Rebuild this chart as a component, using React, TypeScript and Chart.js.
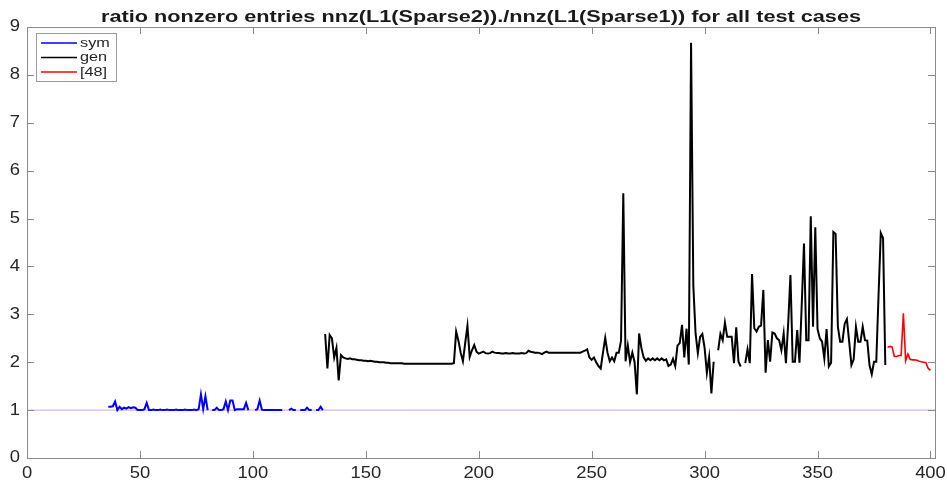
import React, { useEffect, useRef } from "react";
import { Chart, registerables } from "chart.js";

Chart.register(...registerables);

const TITLE = "ratio nonzero entries nnz(L1(Sparse2))./nnz(L1(Sparse1)) for all test cases";
const X_TICKS = [0, 50, 100, 150, 200, 250, 300, 350, 400];
const Y_TICKS = [0, 1, 2, 3, 4, 5, 6, 7, 8, 9];
const X_MIN = 0;
const X_MAX = 402;
const Y_MIN = 0;
const Y_MAX = 9;

const SERIES_LABELS = ["sym", "gen", "[48]"];

// sym: test cases 36..131 (null = no value)
const SYM_START = 36;
const SYM_VALUES = [
  1.07, 1.07, 1.08, 1.18, 1.0, 1.07, 1.02, 1.05, 1.03, 1.06,
  1.04, 1.06, 1.05, 1.0, 1.0, 1.0, 1.02, 1.15, 1.0, 1.0,
  1.01, 1.0, 1.0, 1.01, 1.0, 1.0, 1.01, 1.0, 1.0, 1.0,
  1.01, 1.0, 1.0, 1.0, 1.01, 1.0, 1.0, 1.0, 1.01, 1.0,
  1.02, 1.33, 1.02, 1.29, 1.0, null, 1.0, 1.0, 1.05, 1.0,
  1.0, 1.02, 1.18, 1.0, 1.2, 1.2, 1.0, 1.02, 1.02, 1.02,
  1.02, 1.15, 1.0, null, null, 1.0, 1.02, 1.2, 1.01, 1.0,
  1.0, 1.0, 1.0, 1.0, 1.0, 1.0, 1.0, 1.0, null, null,
  1.0, 1.03, 1.0, 1.0, null, 1.0, 1.0, 1.0, 1.05, 1.0,
  1.0, null, 1.0, 1.0, 1.07, 1.0,
];

// gen: test cases 132..380
const GEN_START = 132;
const GEN_VALUES = [
  2.59, 1.87, 2.57, 2.5, 2.1, 2.3, 1.62, 2.15, 2.1, 2.08,
  2.07, 2.08, 2.06, 2.06, 2.05, 2.04, 2.04, 2.03, 2.03, 2.02,
  2.03, 2.02, 2.01, 2.01, 2.0, 2.0, 2.0, 1.99, 1.99, 1.98,
  1.98, 1.98, 1.98, 1.98, 1.98, 1.97, 1.97, 1.97, 1.97, 1.97,
  1.97, 1.97, 1.97, 1.97, 1.97, 1.97, 1.97, 1.97, 1.97, 1.97,
  1.97, 1.97, 1.97, 1.97, 1.97, 1.97, 1.97, 1.98, 2.64, 2.45,
  2.2, 2.02, 2.4, 2.76, 2.11, 2.25, 2.36, 2.22, 2.18, 2.2,
  2.22, 2.19, 2.18, 2.19, 2.22, 2.2, 2.19, 2.19, 2.18, 2.18,
  2.19, 2.18, 2.18, 2.19, 2.18, 2.18, 2.18, 2.19, 2.18, 2.19,
  2.24, 2.22, 2.21, 2.2, 2.2, 2.19, 2.17, 2.2, 2.22, 2.2,
  2.2, 2.2, 2.2, 2.2, 2.2, 2.2, 2.2, 2.2, 2.2, 2.2,
  2.2, 2.2, 2.2, 2.2, 2.22, 2.24, 2.27, 2.1, 2.05, 2.1,
  2.0, 1.92, 1.87, 2.2, 2.51, 2.2, 2.02, 2.1, 2.02, 2.2,
  2.2, 2.45, 5.53, 2.02, 2.35, 2.0, 2.2, 2.0, 1.33, 2.6,
  2.3, 2.1, 2.03, 2.08, 2.04, 2.08, 2.04, 2.08, 2.04, 2.08,
  2.04, 2.06, 1.92, 1.95, 2.07, 1.92, 2.35, 2.4, 2.78, 2.1,
  2.7, 1.95, 8.67, 3.6, 2.6, 2.19, 2.53, 2.59, 2.3, 1.78,
  2.11, 1.35, 2.01, null, 2.25, 2.59, 2.46, 2.83, 2.53, 2.53,
  2.53, 1.98, 2.73, 2.01, 1.91, null, 1.98, 2.27, 1.98, 3.84,
  2.71, 2.64, 2.74, 2.77, 3.51, 1.78, 2.46, 2.01, 2.62, 2.6,
  2.5, 2.46, 2.25, 2.6, 1.98, 2.81, 3.82, 2.01, 2.01, 2.67,
  1.99, 3.2, 4.48, 2.46, 2.46, 5.05, 2.74, 4.82, 2.69, 2.5,
  2.43, 2.08, 2.69, 1.91, 1.99, 4.72, 4.68, 2.74, 2.43, 2.43,
  2.8, 2.9, 2.43, 1.94, 2.06, 2.74, 2.43, 2.43, 2.74, 2.46,
  2.45, 1.94, 1.75, 2.01, 2.01, 3.4, 4.7, 4.59, 1.94,
];

// [48]: test cases 381..400
const P48_START = 381;
const P48_VALUES = [
  2.31, 2.33, 2.32, 2.12, 2.12, 2.14, 2.14, 3.02, 2.03, 2.17,
  2.06, 2.05, 2.05, 2.04, 2.02, 2.01, 2.0, 1.99, 1.87, 1.83,
];

// reference line y = 1
const REF_X = [0, 402];
const REF_Y = [1, 1];

const COLORS = ["#0000ff", "#000000", "#ff0000"];
const REF_COLOR = "#c9a4e8";
const AXIS_COLOR = "#8a8a8a";
const TEXT_COLOR = "#262626";
const FONT = "'Liberation Sans', Arial, Helvetica, sans-serif";

const toPoints = (start: number, vals: (number | null)[]) =>
  vals.map((v, i) => ({ x: start + i, y: v }));

function stretchedText(
  ctx: CanvasRenderingContext2D,
  text: string,
  x: number,
  y: number,
  align: CanvasTextAlign,
  sx: number
) {
  ctx.save();
  ctx.translate(x, y);
  ctx.scale(sx, 1);
  ctx.textAlign = align;
  ctx.fillText(text, 0, 0);
  ctx.restore();
}

const decorPlugin = {
  id: "matlabDecor",
  afterDraw(chart: any) {
    const ctx: CanvasRenderingContext2D = chart.ctx;
    const xs = chart.scales.x;
    const ys = chart.scales.y;
    const { left, right, top, bottom } = chart.chartArea;
    ctx.save();

    // box
    ctx.strokeStyle = AXIS_COLOR;
    ctx.lineWidth = 1;
    ctx.strokeRect(Math.round(left) + 0.5, Math.round(top) + 0.5, Math.round(right - left), Math.round(bottom - top));

    // ticks (inward)
    const tl = 7;
    ctx.beginPath();
    X_TICKS.forEach((t) => {
      const px = Math.round(xs.getPixelForValue(t)) + 0.5;
      ctx.moveTo(px, bottom);
      ctx.lineTo(px, bottom - tl);
      ctx.moveTo(px, top);
      ctx.lineTo(px, top + tl);
    });
    Y_TICKS.forEach((t) => {
      const py = Math.round(ys.getPixelForValue(t)) + 0.5;
      ctx.moveTo(left, py);
      ctx.lineTo(left + tl, py);
      ctx.moveTo(right, py);
      ctx.lineTo(right - tl, py);
    });
    ctx.stroke();

    // tick labels
    ctx.fillStyle = TEXT_COLOR;
    ctx.font = `16px ${FONT}`;
    ctx.textBaseline = "alphabetic";
    X_TICKS.forEach((t) => {
      stretchedText(ctx, String(t), xs.getPixelForValue(t), bottom + 20, "center", 1.15);
    });
    ctx.textBaseline = "middle";
    Y_TICKS.forEach((t) => {
      stretchedText(ctx, String(t), left - 7, ys.getPixelForValue(t), "right", 1.15);
    });

    // title
    ctx.font = `bold 17px ${FONT}`;
    ctx.textBaseline = "alphabetic";
    ctx.fillStyle = "#1a1a1a";
    const tw = ctx.measureText(TITLE).width;
    const targetW = 760;
    stretchedText(ctx, TITLE, (left + right) / 2, 22, "center", targetW / tw);

    // legend
    const lx = 36.5, ly = 33.5, lw = 80, lh = 48;
    ctx.fillStyle = "#ffffff";
    ctx.fillRect(lx, ly, lw, lh);
    ctx.strokeStyle = "#9a9a9a";
    ctx.lineWidth = 1;
    ctx.strokeRect(lx, ly, lw, lh);
    ctx.font = `13px ${FONT}`;
    ctx.textBaseline = "middle";
    SERIES_LABELS.forEach((lab, i) => {
      const yy = 43 + i * 14.5;
      ctx.strokeStyle = COLORS[i];
      ctx.lineWidth = 1.5;
      ctx.beginPath();
      ctx.moveTo(41, yy);
      ctx.lineTo(77, yy);
      ctx.stroke();
      ctx.fillStyle = TEXT_COLOR;
      stretchedText(ctx, lab, 80, yy, "left", 1.25);
    });

    ctx.restore();
  },
};

export default function App() {
  const ref = useRef<HTMLCanvasElement | null>(null);

  useEffect(() => {
    if (!ref.current) return;
    const chart = new Chart(ref.current, {
      type: "line",
      data: {
        datasets: [
          {
            label: SERIES_LABELS[0],
            data: toPoints(SYM_START, SYM_VALUES),
            borderColor: COLORS[0],
            borderWidth: 2,
            order: 1,
          },
          {
            label: SERIES_LABELS[1],
            data: toPoints(GEN_START, GEN_VALUES),
            borderColor: COLORS[1],
            borderWidth: 2,
            order: 1,
          },
          {
            label: SERIES_LABELS[2],
            data: toPoints(P48_START, P48_VALUES),
            borderColor: COLORS[2],
            borderWidth: 1.6,
            order: 1,
          },
          {
            label: "ref",
            data: REF_X.map((x, i) => ({ x, y: REF_Y[i] })),
            borderColor: REF_COLOR,
            borderWidth: 1,
            order: 5,
          },
        ],
      },
      options: {
        responsive: false,
        animation: false,
        parsing: { xAxisKey: "x", yAxisKey: "y" },
        layout: { padding: { left: 27, right: 12, top: 27, bottom: 25 } },
        elements: {
          point: { radius: 0, hoverRadius: 0 },
          line: { tension: 0, fill: false },
        },
        spanGaps: false,
        plugins: {
          legend: { display: false },
          title: { display: false },
          tooltip: { enabled: false },
        },
        scales: {
          x: { type: "linear", min: X_MIN, max: X_MAX, display: false },
          y: { type: "linear", min: Y_MIN, max: Y_MAX, display: false },
        },
      },
      plugins: [decorPlugin],
    } as any);
    return () => chart.destroy();
  }, []);

  return (
    <div style={{ position: "fixed", left: 0, top: 0, width: 947, height: 483, background: "#ffffff" }}>
      <canvas ref={ref} width={947} height={483} style={{ display: "block" }} />
    </div>
  );
}
